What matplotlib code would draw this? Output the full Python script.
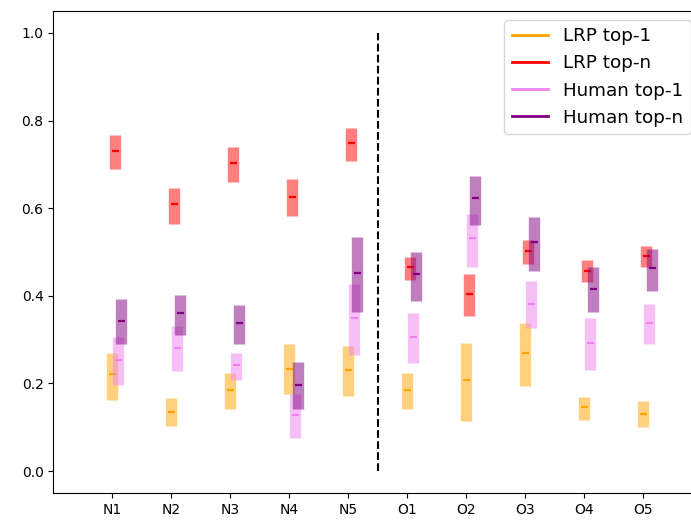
import matplotlib
matplotlib.use("Agg")
import matplotlib.pyplot as plt
from matplotlib.lines import Line2D

categories = ["N1", "N2", "N3", "N4", "N5", "O1", "O2", "O3", "O4", "O5"]

lrp1_low = [0.162, 0.103, 0.141, 0.177, 0.171, 0.141, 0.114, 0.194, 0.117, 0.100]
lrp1_med = [0.221, 0.134, 0.185, 0.233, 0.230, 0.185, 0.207, 0.269, 0.146, 0.131]
lrp1_high = [0.270, 0.167, 0.223, 0.289, 0.285, 0.224, 0.292, 0.337, 0.169, 0.161]

lrpn_low = [0.690, 0.564, 0.660, 0.583, 0.708, 0.436, 0.355, 0.472, 0.431, 0.466]
lrpn_med = [0.731, 0.609, 0.704, 0.626, 0.749, 0.465, 0.405, 0.502, 0.456, 0.492]
lrpn_high = [0.766, 0.647, 0.740, 0.667, 0.784, 0.489, 0.449, 0.528, 0.481, 0.513]

hum1_low = [0.197, 0.228, 0.207, 0.076, 0.266, 0.246, 0.466, 0.326, 0.231, 0.291]
hum1_med = [0.254, 0.280, 0.241, 0.128, 0.349, 0.305, 0.531, 0.382, 0.292, 0.337]
hum1_high = [0.306, 0.330, 0.270, 0.177, 0.427, 0.361, 0.587, 0.433, 0.349, 0.381]

humn_low = [0.290, 0.311, 0.290, 0.141, 0.362, 0.389, 0.562, 0.457, 0.362, 0.412]
humn_med = [0.343, 0.361, 0.338, 0.197, 0.453, 0.450, 0.624, 0.522, 0.415, 0.463]
humn_high = [0.393, 0.402, 0.379, 0.250, 0.534, 0.501, 0.674, 0.579, 0.465, 0.506]

series_names = ["LRP top-1", "LRP top-n", "Human top-1", "Human top-n"]
series_colors = ["orange", "red", "violet", "purple"]
series_data = [
    (lrp1_low, lrp1_med, lrp1_high),
    (lrpn_low, lrpn_med, lrpn_high),
    (hum1_low, hum1_med, hum1_high),
    (humn_low, humn_med, humn_high),
]
offsets = [0.0, 0.05, 0.10, 0.15]

W, H = 691, 524
fig = plt.figure(figsize=(W / 100, H / 100), dpi=100)
ax = fig.add_axes([53.3 / W, 1 - 493 / H, 649 / W, (493 - 11) / H])

positions = list(range(1, len(categories) + 1))
for (lo, med, hi), color, off in zip(series_data, series_colors, offsets):
    for i, p in enumerate(positions):
        x = p + off
        ax.plot([x, x], [lo[i], hi[i]], color=color, lw=8.2, alpha=0.5,
                solid_capstyle="butt")
        ax.plot([x - 0.06, x + 0.06], [med[i], med[i]], color=color, lw=1.6,
                solid_capstyle="butt")

ax.plot([5.5, 5.5], [0, 1], color="black", ls="--", lw=1.5)

ax.set_xticks(positions)
ax.set_xticklabels(categories)
ax.set_xlim(0, 11)
ax.set_ylim(-0.05, 1.05)

handles = [Line2D([0], [0], color=c, lw=2) for c in series_colors]
ax.legend(handles, series_names, loc="upper right", fontsize=13.2,
          bbox_to_anchor=(690.5 / W, 1 - 20 / H),
          bbox_transform=fig.transFigure, borderaxespad=0)

fig.savefig("out.png", dpi=100)
